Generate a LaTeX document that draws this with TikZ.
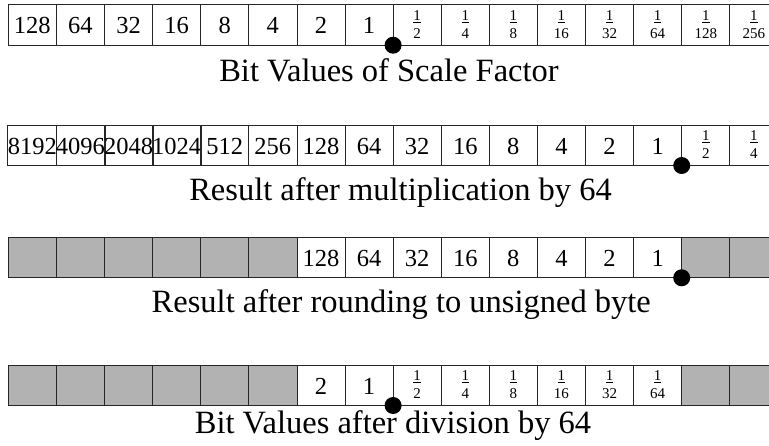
\documentclass[tikz,border=0pt]{standalone}
\usepackage{fontspec}
\setmainfont{Liberation Serif}

% fraction with the bar under the numerator only
\newcommand\bitfrac[1]{\begin{tabular}[t]{@{}c@{}}\underline{1}\\#1\end{tabular}}

% one register row: name, vertical centre, list of style/text pairs
\newcommand\bitrow[3]{%
  \foreach \st/\lab [count=\i from 0] in {#3}
    {\node[\st] (#1c\i) at ({8.3+48.1*(\i+0.5)}, #2) {\lab};}}

\tikzset{
  every node/.style={inner sep=0pt, outer sep=0pt},
  cellbase/.style={draw=black!85, line width=0.8pt,
    minimum width=48.1pt, minimum height=40.5pt},
  numcell/.style={cellbase, font=\fontsize{24.5}{24.5}\selectfont,
    text height=18pt, text depth=0pt},
  fraccell/.style={cellbase, font=\fontsize{15}{17.5}\selectfont,
    text height=0pt, text depth=8.5pt},
  padcell/.style={cellbase, fill=black!30},
  binpoint/.style={circle, fill=black, minimum size=17pt},
  caption/.style={font=\fontsize{32.5}{34}\selectfont, anchor=base}
}

\begin{document}
\begin{tikzpicture}[x=1pt, y=-1pt]
\useasboundingbox (0,0) rectangle (769,446);

% scale factor bits
\bitrow{r1}{24.95}{numcell/128,numcell/64,numcell/32,numcell/16,numcell/8,
  numcell/4,numcell/2,numcell/1,fraccell/\bitfrac{2},fraccell/\bitfrac{4},
  fraccell/\bitfrac{8},fraccell/\bitfrac{16},fraccell/\bitfrac{32},
  fraccell/\bitfrac{64},fraccell/\bitfrac{128},fraccell/\bitfrac{256}}
\node[binpoint] (bp1) at (r1c7.south east) {};
\node[caption] (cap1) at (389,81.7) {Bit Values of Scale Factor};

% after multiplication by 64
\bitrow{r2}{145.25}{numcell/8192,numcell/4096,numcell/2048,numcell/1024,
  numcell/512,numcell/256,numcell/128,numcell/64,numcell/32,numcell/16,
  numcell/8,numcell/4,numcell/2,numcell/1,fraccell/\bitfrac{2},
  fraccell/\bitfrac{4}}
\node[binpoint] (bp2) at (r2c13.south east) {};
\node[caption] (cap2) at (400.5,200.7) {Result after multiplication by 64};

% after rounding to an unsigned byte
\bitrow{r3}{257.55}{padcell/{},padcell/{},padcell/{},padcell/{},padcell/{},
  padcell/{},numcell/128,numcell/64,numcell/32,numcell/16,numcell/8,
  numcell/4,numcell/2,numcell/1,padcell/{},padcell/{}}
\node[binpoint] (bp3) at (r3c13.south east) {};
\node[caption] (cap3) at (401.3,312.3) {Result after rounding to unsigned byte};

% after division by 64
\bitrow{r4}{385.25}{padcell/{},padcell/{},padcell/{},padcell/{},padcell/{},
  padcell/{},numcell/2,numcell/1,fraccell/\bitfrac{2},fraccell/\bitfrac{4},
  fraccell/\bitfrac{8},fraccell/\bitfrac{16},fraccell/\bitfrac{32},
  fraccell/\bitfrac{64},padcell/{},padcell/{}}
\node[binpoint] (bp4) at (r4c7.south east) {};
\node[caption] (cap4) at (393,433.3) {Bit Values after division by 64};
\end{tikzpicture}
\end{document}
